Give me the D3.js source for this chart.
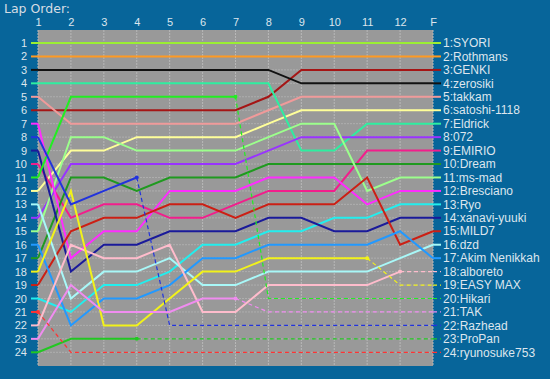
<!DOCTYPE html>
<html>

<head>
  <title>Lap Order</title>
</head>

<style>
  body,
  html {
    margin: 0;
    padding: 0;
    background: #07659a;
  }

  #svg {
    display: block;
  }
</style>

<body>

  <svg id="svg" width="550" height="379"></svg>

  <script src="https://d3js.org/d3.v7.min.js"></script>
  <script>

    const laps = ['1', '2', '3', '4', '5', '6', '7', '8', '9', '10', '11', '12', 'F']

    const drivers = ['SYORI', 'Rothmans', 'GENKI', 'zerosiki', 'takkam', 'satoshi-1118',
      'Eldrick', '072', 'EMIRIO', 'Dream', 'ms-mad', 'Bresciano', 'Ryo', 'xanavi-yuuki',
      'MILD7', 'dzd', 'Akim Nenikkah', 'alboreto', 'EASY MAX', 'Hikari', 'TAK', 'Razhead',
      'ProPan', 'ryunosuke753']

    // position of each driver after every lap (1..12, F)
    const positions = [
      [1, 1, 1, 1, 1, 1, 1, 1, 1, 1, 1, 1, 1],
      [2, 2, 2, 2, 2, 2, 2, 2, 2, 2, 2, 2, 2],
      [6, 6, 6, 6, 6, 6, 6, 5, 3, 3, 3, 3, 3],
      [3, 3, 3, 3, 3, 3, 3, 3, 4, 4, 4, 4, 4],
      [5, 7, 7, 7, 7, 7, 7, 6, 5, 5, 5, 5, 5],
      [12, 9, 9, 8, 8, 8, 8, 7, 6, 6, 6, 6, 6],
      [4, 4, 4, 4, 4, 4, 4, 4, 9, 9, 7, 7, 7],
      [14, 10, 10, 10, 10, 10, 10, 9, 8, 8, 8, 8, 8],
      [10, 14, 13, 13, 14, 14, 13, 12, 12, 12, 9, 9, 9],
      [17, 11, 11, 12, 11, 11, 11, 10, 10, 10, 10, 10, 10],
      [15, 8, 8, 9, 9, 9, 9, 8, 7, 7, 12, 11, 11],
      [7, 17, 15, 15, 12, 12, 12, 11, 11, 11, 13, 12, 12],
      [20, 21, 19, 19, 18, 16, 16, 15, 15, 14, 14, 13, 13],
      [9, 18, 16, 16, 15, 15, 15, 14, 14, 15, 15, 14, 14],
      [19, 15, 14, 14, 13, 13, 14, 13, 13, 13, 11, 16, 15],
      [13, 20, 18, 18, 17, 19, 19, 18, 18, 18, 18, 17, 16],
      [16, 22, 20, 20, 19, 17, 17, 16, 16, 16, 16, 15, 17],
      [22, 16, 17, 17, 16, 21, 21, 19, 19, 19, 19, 18, 18],
      [18, 12, 22, 22, 20, 18, 18, 17, 17, 17, 17, 19, 19],
      [11, 5, 5, 5, 5, 5, 5, 20, 20, 20, 20, 20, 20],
      [23, 19, 21, 21, 21, 20, 20, 21, 21, 21, 21, 21, 21],
      [8, 13, 12, 11, 22, 22, 22, 22, 22, 22, 22, 22, 22],
      [24, 23, 23, 23, 23, 23, 23, 23, 23, 23, 23, 23, 23],
      [21, 24, 24, 24, 24, 24, 24, 24, 24, 24, 24, 24, 24]
    ]

    // last lap completed before retiring (null = finished)
    const lastLap = [null, null, null, null, null, null, null, null, null, null, null, null,
      null, null, null, null, null, '12', '11', '7', '7', '4', '4', '1']

    const colors = ['#9bee33', '#ff9a22', '#a51515', '#111111', '#f09a9a', '#ffff99',
      '#2eeea0', '#9933ff', '#f21e8c', '#1f9a1f', '#9cff8c', '#ff2cff', '#22eeee', '#1a1a9a',
      '#cc1f14', '#a8f8f8', '#2299ff', '#ffbccc', '#f2f21a', '#22ee22', '#f08cf0', '#2233dd',
      '#22c822', '#ff3333']

    const svg = d3.select('#svg')

    const x = d3.scalePoint()
      .domain(laps)
      .range([38, 433])

    const y = d3.scaleLinear()
      .domain([1, 24])
      .range([43, 352.3])

    const rows = d3.range(1, 25)

    // title
    svg.append('text')
      .attr('x', 4)
      .attr('y', 13)
      .attr('fill', '#d6dde4')
      .style('font', '12.5px "DejaVu Sans"')
      .text('Lap Order:')

    // plot background
    svg.append('rect')
      .attr('x', x('1'))
      .attr('y', 30)
      .attr('width', x('F') - x('1'))
      .attr('height', 336)
      .attr('fill', '#999999')

    // grid
    svg.append('g')
      .selectAll('line')
      .data(laps)
      .join('line')
      .attr('x1', d => x(d))
      .attr('x2', d => x(d))
      .attr('y1', 30)
      .attr('y2', 366)
      .attr('stroke', '#b8b8b8')
      .attr('stroke-dasharray', '2,1')

    svg.append('g')
      .selectAll('line')
      .data(rows)
      .join('line')
      .attr('x1', x('1'))
      .attr('x2', x('F'))
      .attr('y1', d => y(d))
      .attr('y2', d => y(d))
      .attr('stroke', '#aeaeae')
      .attr('stroke-dasharray', '2,1')

    // axes
    const xAxis = svg.append('g')
      .attr('transform', 'translate(0,28)')
      .call(d3.axisTop(x).tickSize(0).tickPadding(2))
    xAxis.select('.domain').remove()

    const yAxis = svg.append('g')
      .attr('transform', 'translate(27,0)')
      .call(d3.axisLeft(y).tickValues(rows).tickFormat(d3.format('d')).tickSize(0).tickPadding(0))
    yAxis.select('.domain').remove()

    svg.selectAll('.tick text')
      .attr('fill', '#dde6ee')
      .style('font', '11px "Liberation Sans", Arial, sans-serif')

    // driver lines
    const linegen = d3.line()
      .x(d => x(d.lap))
      .y(d => y(d.pos))

    const lines = svg.append('g')

    drivers.forEach((name, i) => {
      const pts = laps.map((lap, j) => ({ lap: lap, pos: positions[i][j] }))
      const cut = lastLap[i] === null ? laps.length - 1 : laps.indexOf(lastLap[i])
      const first = pts[0]
      const last = pts[pts.length - 1]

      // start stub
      lines.append('line')
        .attr('x1', x('1') - 7)
        .attr('x2', x('1'))
        .attr('y1', y(first.pos))
        .attr('y2', y(first.pos))
        .attr('stroke', colors[i])
        .attr('stroke-width', 2)

      lines.append('path')
        .attr('d', linegen(pts.slice(0, cut + 1)))
        .attr('fill', 'none')
        .attr('stroke', colors[i])
        .attr('stroke-width', 2)

      if (cut < laps.length - 1) {
        lines.append('path')
          .attr('d', linegen(pts.slice(cut)))
          .attr('fill', 'none')
          .attr('stroke', colors[i])
          .attr('stroke-width', 1.2)
          .attr('stroke-dasharray', '4,3')

        lines.append('circle')
          .attr('cx', x(pts[cut].lap))
          .attr('cy', y(pts[cut].pos))
          .attr('r', 2)
          .attr('fill', colors[i])
      }

      // end stub
      lines.append('line')
        .attr('x1', x('F'))
        .attr('x2', x('F') + 8)
        .attr('y1', y(last.pos))
        .attr('y2', y(last.pos))
        .attr('stroke', colors[i])
        .attr('stroke-width', cut < laps.length - 1 ? 1.2 : 2)
        .attr('stroke-dasharray', cut < laps.length - 1 ? '4,3' : null)

      svg.append('text')
        .attr('x', x('F') + 10)
        .attr('y', y(last.pos))
        .attr('dy', '0.35em')
        .attr('fill', '#dde6ee')
        .style('font', '12px "Liberation Sans", Arial, sans-serif')
        .text(last.pos + ':' + name)
    })

  </script>

</body>

</html>
